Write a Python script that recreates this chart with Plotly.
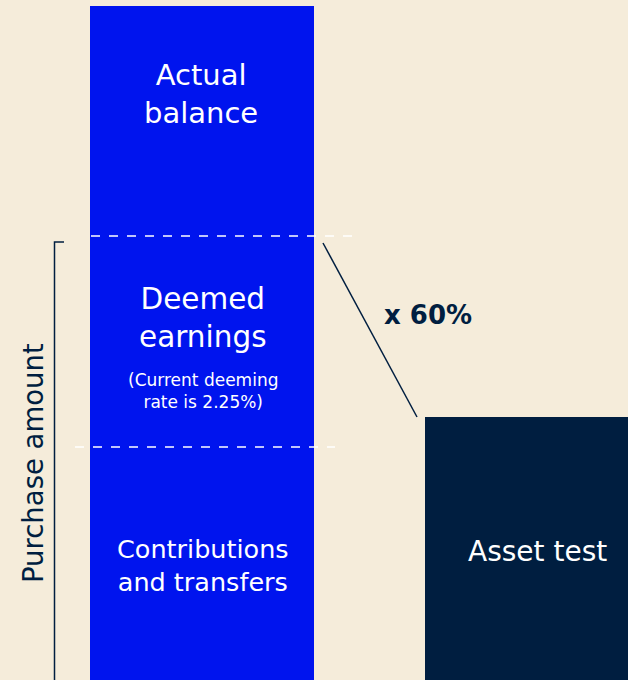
import plotly.graph_objects as go

# ---- data (axis units = px of height) ----
categories = ["Balance", "Asset test"]
contributions = [233]
deemed = [209]
actual = [232]
asset_test = [263]

segment_labels = ["Contributions<br>and transfers", "Deemed<br>earnings", "Actual<br>balance"]
asset_label = "Asset test"
multiplier_label = "x 60%"
bracket_label = "Purchase amount"
note_label = "(Current deeming<br>rate is 2.25%)"

BG = "#F5ECDA"
BLUE = "#0014EE"
NAVY = "#001E40"
FONT = "DejaVu Sans"

W, H = 628, 680
blue_c, navy_c = 202, 530
unit = navy_c - blue_c
x0 = -blue_c / unit
x1 = x0 + W / unit

fig = go.Figure()
for vals, name in [(contributions, segment_labels[0]), (deemed, segment_labels[1]), (actual, segment_labels[2])]:
    fig.add_trace(go.Bar(x=[categories[0]], y=vals, width=224 / unit, marker=dict(color=BLUE, line=dict(width=0)),
                         name=name, hoverinfo="skip"))
fig.add_trace(go.Bar(x=[categories[1]], y=asset_test, width=2 * (navy_c - 425) / unit,
                     marker=dict(color=NAVY, line=dict(width=0)), name=asset_label, hoverinfo="skip"))

c = contributions[0]
cd = contributions[0] + deemed[0]
top = cd + actual[0]

def px(x):
    return x / W

shapes = [
    dict(type="line", xref="paper", yref="y", x0=px(91), x1=px(352), y0=cd + 2, y1=cd + 2,
         line=dict(color="white", width=1.5, dash="dash")),
    dict(type="line", xref="paper", yref="y", x0=px(75), x1=px(335), y0=c, y1=c,
         line=dict(color="white", width=1.5, dash="dash")),
    dict(type="line", xref="paper", yref="y", x0=px(323), x1=px(417), y0=cd - 5, y1=asset_test[0],
         line=dict(color=NAVY, width=1.5)),
    dict(type="path", xref="paper", yref="y",
         path=f"M {px(64)},{cd - 4} L {px(54.5)},{cd - 4} L {px(54.5)},-5", line=dict(color=NAVY, width=1.5)),
]

def ann(text, x, y, size, color="white", bold=False, angle=0):
    return dict(text=f"<b>{text}</b>" if bold else text, xref="paper", yref="y", x=px(x), y=y,
                showarrow=False, font=dict(family=FONT, size=size, color=color), textangle=angle,
                xanchor="center", yanchor="middle", align="center")

annotations = [
    ann(segment_labels[2], 201, H - 94, 29),
    ann(segment_labels[1], 203, H - 318, 29.5),
    ann(note_label, 203, H - 391, 17),
    ann(segment_labels[0], 203, H - 565, 25.5),
    ann(asset_label, 537, H - 551, 28),
    ann(multiplier_label, 428, H - 315, 26, color=NAVY, bold=True),
    ann(bracket_label, 33, H - 463, 27.5, color=NAVY, angle=-90),
]

fig.update_layout(
    width=W, height=H, margin=dict(l=0, r=0, t=0, b=0),
    paper_bgcolor=BG, plot_bgcolor=BG, barmode="stack", bargap=0, showlegend=False,
    xaxis=dict(range=[x0, x1], visible=False, fixedrange=True),
    yaxis=dict(range=[0, H], visible=False, fixedrange=True),
    shapes=shapes, annotations=annotations,
)

fig.write_html("out.html", config={"displayModeBar": False},
               post_script="document.body.style.margin='0';document.body.style.overflow='hidden';")
